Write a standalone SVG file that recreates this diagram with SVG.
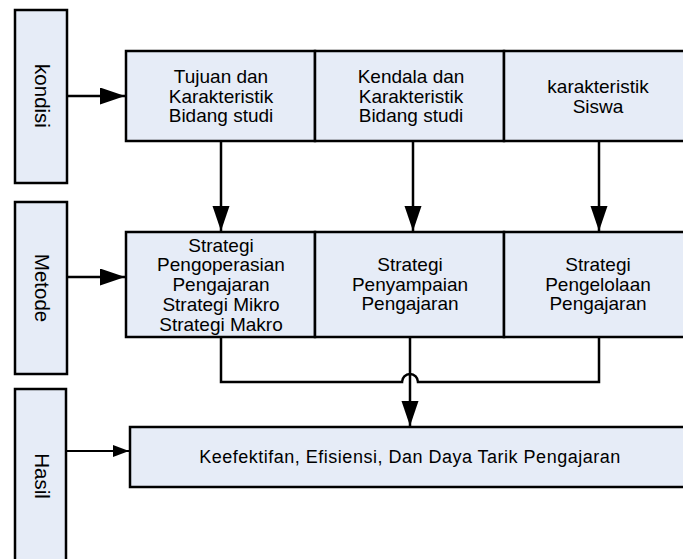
<svg xmlns="http://www.w3.org/2000/svg" width="683" height="559" viewBox="0 0 683 559">
  <defs>
    <style>
      .box { fill: #E6ECF7; stroke: #000; stroke-width: 2.5; }
      .t { font-family: "Liberation Sans", Arial, sans-serif; font-size: 19px; fill: #000; text-anchor: middle; }
      .tv { font-family: "Liberation Sans", Arial, sans-serif; font-size: 20.5px; fill: #000; text-anchor: middle; }
      .tb { font-family: "Liberation Sans", Arial, sans-serif; font-size: 18px; letter-spacing: 0.5px; fill: #000; text-anchor: middle; }
      .line { fill: none; stroke: #000; stroke-width: 2.5; }
      .thin { fill: none; stroke: #000; stroke-width: 2; }
    </style>
    <marker id="ah" markerUnits="userSpaceOnUse" markerWidth="26" markerHeight="18" refX="25" refY="8.5" orient="auto">
      <path d="M0,0 L25,8.5 L0,17 Z" fill="#000"/>
    </marker>
    <marker id="ahs" markerUnits="userSpaceOnUse" markerWidth="17" markerHeight="13" refX="16" refY="6" orient="auto">
      <path d="M0,0 L16,6 L0,12 Z" fill="#000"/>
    </marker>
  </defs>

  <rect width="683" height="559" fill="#fff"/>

  <g id="kondisi">
    <rect class="box" x="15" y="10" width="52" height="173"/>
    <text class="tv" transform="translate(42,96) rotate(90)" y="7">kondisi</text>
  </g>
  <g id="metode">
    <rect class="box" x="15" y="202" width="52" height="172"/>
    <text class="tv" transform="translate(42,288) rotate(90)" y="7">Metode</text>
  </g>
  <g id="hasil">
    <rect class="box" x="15" y="389" width="51" height="190"/>
    <text class="tv" transform="translate(42,476) rotate(90)" y="7">Hasil</text>
  </g>

  <g id="tujuan">
    <rect class="box" x="126" y="51" width="189" height="90"/>
    <text class="t" x="221" y="83">Tujuan dan</text>
    <text class="t" x="221" y="103">Karakteristik</text>
    <text class="t" x="221" y="122">Bidang studi</text>
  </g>
  <g id="kendala">
    <rect class="box" x="315" y="51" width="189" height="90"/>
    <text class="t" x="411" y="83">Kendala dan</text>
    <text class="t" x="411" y="103">Karakteristik</text>
    <text class="t" x="411" y="122">Bidang studi</text>
  </g>
  <g id="siswa">
    <rect class="box" x="504" y="51" width="190" height="90"/>
    <text class="t" x="598" y="93">karakteristik</text>
    <text class="t" x="598" y="113">Siswa</text>
  </g>

  <g id="pengoperasian">
    <rect class="box" x="126" y="232" width="189" height="105"/>
    <text class="t" x="221" y="252">Strategi</text>
    <text class="t" x="221" y="271">Pengoperasian</text>
    <text class="t" x="221" y="291">Pengajaran</text>
    <text class="t" x="221" y="311">Strategi Mikro</text>
    <text class="t" x="221" y="331">Strategi Makro</text>
  </g>
  <g id="penyampaian">
    <rect class="box" x="315" y="232" width="189" height="105"/>
    <text class="t" x="410" y="271">Strategi</text>
    <text class="t" x="410" y="291">Penyampaian</text>
    <text class="t" x="410" y="310">Pengajaran</text>
  </g>
  <g id="pengelolaan">
    <rect class="box" x="504" y="232" width="190" height="105"/>
    <text class="t" x="598" y="271">Strategi</text>
    <text class="t" x="598" y="291">Pengelolaan</text>
    <text class="t" x="598" y="310">Pengajaran</text>
  </g>

  <g id="hasil-pengajaran">
    <rect class="box" x="130" y="427" width="564" height="60"/>
    <text class="tb" x="410" y="463">Keefektifan, Efisiensi, Dan Daya Tarik Pengajaran</text>
  </g>

  <g id="connectors">
    <path class="line" d="M67,96 H125" marker-end="url(#ah)"/>
    <path class="line" d="M67,277 H125" marker-end="url(#ah)"/>
    <path class="thin" d="M66,451 H129" marker-end="url(#ahs)"/>
    <path class="line" d="M221,141 V231" marker-end="url(#ah)"/>
    <path class="line" d="M413,141 V231" marker-end="url(#ah)"/>
    <path class="line" d="M599,141 V231" marker-end="url(#ah)"/>
    <path class="line" d="M221,337 V382 H402 A8,8 0 0 1 418,382 H599 V337"/>
    <path class="line" d="M410,337 V426" marker-end="url(#ah)"/>
  </g>
</svg>
